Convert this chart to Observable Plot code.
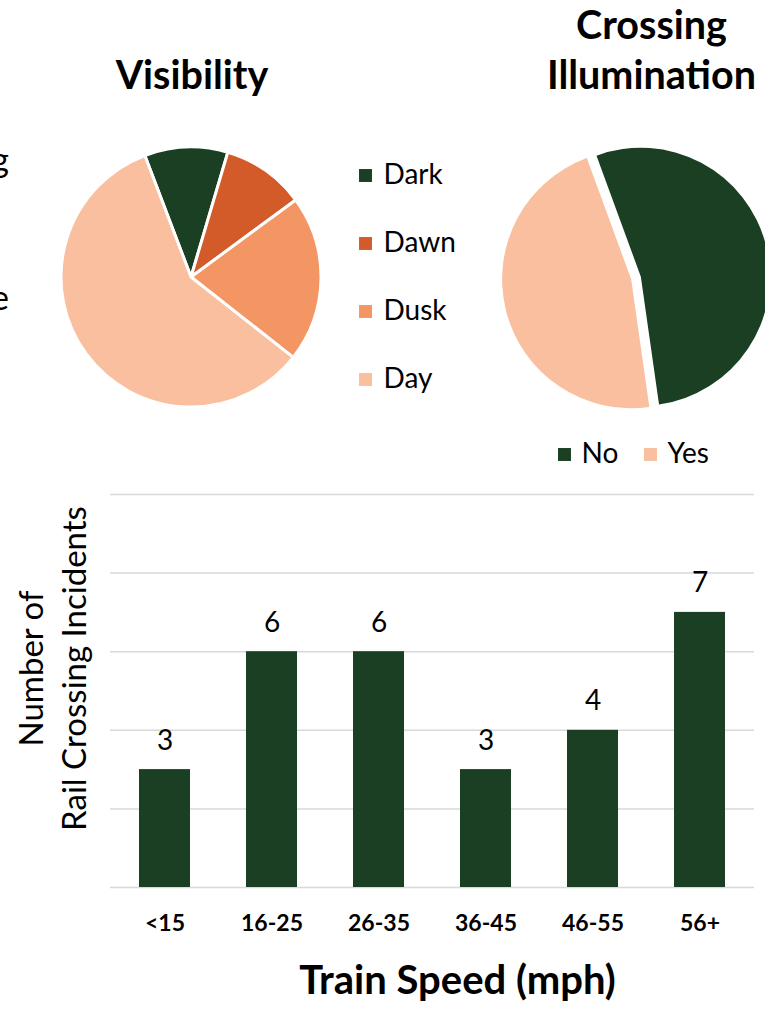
<!DOCTYPE html>
<html>
<head>
<meta charset="utf-8">
<script src="https://cdn.jsdelivr.net/npm/d3@7"></script>
<script src="https://cdn.jsdelivr.net/npm/@observablehq/plot@0.6"></script>
<style>
  body { margin: 0; background: #fff; }
  #page { position: relative; width: 765px; height: 1013px; overflow: hidden; background: #fff;
          font-family: Lato, "Open Sans", sans-serif; color: #000; }
  .abs { position: absolute; }
  .title { font-weight: 700; font-size: 39.5px; line-height: 39px; text-align: center; white-space: nowrap; }
  .edge { font-size: 34px; line-height: 40px; text-align: right; white-space: nowrap; }
</style>
</head>
<body>
<div id="page"></div>
<script>
// Lighting conditions at the time of the incident
const visibilityCats = ["Dark", "Dawn", "Dusk", "Day"];
const visibilityCounts = [3, 3, 6, 17];
const visibilityColors = ["#1a3f22", "#d35b29", "#f49564", "#f9bf9f"];

// Whether the crossing was lit
const illuminationCats = ["No", "Yes"];
const illuminationCounts = [16, 14];
const illuminationColors = ["#1a3f22", "#f9bf9f"];

// Incidents by train speed
const speedBands = ["<15", "16-25", "26-35", "36-45", "46-55", "56+"];
const incidentCounts = [3, 6, 6, 3, 4, 7];
const yTicks = [0, 2, 4, 6, 8, 10];

const GREEN = "#1a3f22";
const FONT = "Lato, 'Open Sans', sans-serif";
const page = document.getElementById("page");

function place(node, left, top) {
  node.style.position = "absolute";
  node.style.left = left + "px";
  node.style.top = top + "px";
  page.appendChild(node);
  return node;
}

function addText(text, cls, left, top, width) {
  const d = document.createElement("div");
  d.className = "abs " + cls;
  d.textContent = text;
  if (width != null) d.style.width = width + "px";
  return place(d, left, top);
}

// A pie drawn as a function mark: slices come from d3.pie, colours from the plot's color scale
function pieMark(cats, counts, { startDeg, radius, explode = 0, stroke = "none", strokeWidth = 0 }) {
  const rows = cats.map((c, i) => ({ c, v: counts[i] }));
  const a0 = startDeg * Math.PI / 180;
  const arcs = d3.pie().sort(null).value(d => d.v).startAngle(a0).endAngle(a0 + 2 * Math.PI)(rows);
  return (index, scales, values, dims) => {
    const cx = (dims.marginLeft + dims.width - dims.marginRight) / 2;
    const cy = (dims.marginTop + dims.height - dims.marginBottom) / 2;
    const arc = d3.arc().innerRadius(0).outerRadius(radius);
    const g = d3.create("svg:g");
    g.selectAll("path")
      .data(arcs)
      .join("path")
      .attr("transform", d => {
        const mid = (d.startAngle + d.endAngle) / 2;
        return `translate(${cx + explode * Math.sin(mid)},${cy - explode * Math.cos(mid)})`;
      })
      .attr("d", arc)
      .attr("fill", d => scales.color(d.data.c))
      .attr("stroke", stroke)
      .attr("stroke-width", strokeWidth)
      .attr("stroke-linejoin", "round");
    return g.node();
  };
}

// Titles
addText("Visibility", "title", 92, 54.4, 200);
addText("Crossing", "title", 531.5, 4.4, 240);
addText("Illumination", "title", 531.5, 54.4, 240);

// Letters of neighbouring text running in from the left edge
addText("g", "edge", -91, 138.8, 100);
addText("e", "edge", -91, 276.8, 100);

// Visibility pie
place(Plot.plot({
  width: 300, height: 300, margin: 0,
  style: { background: "transparent", fontFamily: FONT },
  color: { type: "ordinal", domain: visibilityCats, range: visibilityColors },
  marks: [pieMark(visibilityCats, visibilityCounts, { startDeg: -20.8, radius: 130, stroke: "#fff", strokeWidth: 3 })]
}), 41, 127);

// Visibility legend
place(Plot.plot({
  width: 150, height: 270, margin: 0,
  style: { background: "transparent", fontFamily: FONT, color: "#000" },
  y: { type: "point", domain: visibilityCats, range: [35, 239], padding: 0, axis: null },
  color: { type: "ordinal", domain: visibilityCats, range: visibilityColors },
  marks: [
    Plot.dot(visibilityCats, { y: d => d, fill: d => d, symbol: "square", r: 7.3, frameAnchor: "left", dx: 15 }),
    Plot.text(visibilityCats, { y: d => d, text: d => d, frameAnchor: "left", dx: 33, textAnchor: "start", fontSize: 28, fill: "#000" })
  ]
}), 350, 140);

// Crossing illumination pie (slices pulled apart)
place(Plot.plot({
  width: 300, height: 300, margin: 0,
  style: { background: "transparent", fontFamily: FONT },
  color: { type: "ordinal", domain: illuminationCats, range: illuminationColors },
  marks: [pieMark(illuminationCats, illuminationCounts, { startDeg: -20.1, radius: 129, explode: 5 })]
}), 485.5, 128);

// Crossing illumination legend
place(Plot.plot({
  width: 200, height: 48, margin: 0,
  style: { background: "transparent", fontFamily: FONT, color: "#000" },
  x: { type: "point", domain: illuminationCats, range: [23.5, 110], padding: 0, axis: null },
  color: { type: "ordinal", domain: illuminationCats, range: illuminationColors },
  marks: [
    Plot.dot(illuminationCats, { x: d => d, fill: d => d, symbol: "square", r: 7.3 }),
    Plot.text(illuminationCats, { x: d => d, text: d => d, dx: 17, textAnchor: "start", fontSize: 28, fill: "#000" })
  ]
}), 540, 429.5);

// Bar chart of incidents by train speed
const speedRows = speedBands.map((band, i) => ({ band, count: incidentCounts[i] }));
place(Plot.plot({
  width: 765, height: 533,
  marginTop: 14, marginBottom: 126, marginLeft: 110, marginRight: 11,
  style: { background: "transparent", fontFamily: FONT, color: "#000", overflow: "visible" },
  x: { domain: speedBands, paddingInner: 0.525, paddingOuter: 0.2625, label: null },
  y: { domain: [0, 10], axis: null },
  marks: [
    Plot.gridY(yTicks, { stroke: "#d9d9d9", strokeOpacity: 1, strokeWidth: 1.5 }),
    Plot.barY(speedRows, { x: "band", y: "count", fill: GREEN }),
    Plot.text(speedRows, { x: "band", y: "count", text: d => String(d.count), dy: -29, fontSize: 28, fill: "#000" }),
    Plot.axisX({ tickSize: 0, tickPadding: 27, fontSize: 23, fontWeight: "bold", label: null }),
    Plot.text(["Train Speed (mph)"], { frameAnchor: "bottom", dx: 25, dy: 106, fontSize: 40, fontWeight: "bold", fill: "#000" }),
    Plot.text(["Number of\nRail Crossing Incidents"], {
      frameAnchor: "left", textAnchor: "middle", rotate: -90, dx: -60, dy: -22.5,
      fontSize: 33, lineHeight: 1.33, fill: "#000"
    })
  ]
}), 0, 480);
</script>
</body>
</html>
